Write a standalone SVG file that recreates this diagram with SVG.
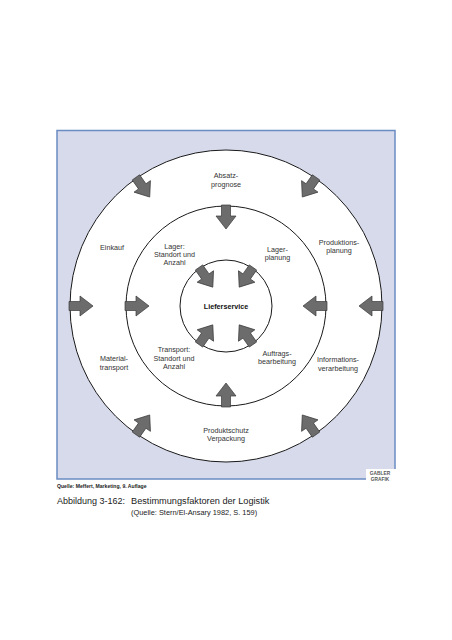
<svg xmlns="http://www.w3.org/2000/svg" xmlns:xlink="http://www.w3.org/1999/xlink" width="452" height="640" viewBox="0 0 452 640">
<style>
.lbl{font-family:"Liberation Sans",Arial,sans-serif;font-size:7.2px;fill:#333;text-anchor:middle}
.bold{font-weight:bold;fill:#111}
.ring{fill:#fff;stroke:#1a1a1a;stroke-width:1}
.arr{fill:#6c6c6c;stroke:#3a3a3a;stroke-width:0.7;stroke-linejoin:miter}
.cap{font-family:"Liberation Sans",Arial,sans-serif;fill:#222}
</style>
<defs>
<path id="a" class="arr" d="M-1,-4.5 L10,-4.5 L10,-10 L23,0 L10,10 L10,4.5 L-1,4.5 Z"/>
</defs>
<rect width="452" height="640" fill="#fff"/>
<rect id="frame" x="57" y="130.5" width="338" height="348.5" fill="#d7daeb" stroke="#6a8cc2" stroke-width="1.5"/>
<g id="outer"><circle class="ring" cx="226" cy="306" r="156"/></g>
<g id="middle"><circle class="ring" cx="226" cy="306" r="100"/></g>
<g id="inner"><circle class="ring" cx="226" cy="306" r="46"/></g>
<g id="connectors">
<use xlink:href="#a" transform="translate(70,306)"/>
<use xlink:href="#a" transform="translate(382,306) rotate(180)"/>
<use xlink:href="#a" transform="translate(136.5,178.2) rotate(55)"/>
<use xlink:href="#a" transform="translate(315.5,178.2) rotate(125)"/>
<use xlink:href="#a" transform="translate(136.5,433.8) rotate(-55)"/>
<use xlink:href="#a" transform="translate(315.5,433.8) rotate(-125)"/>
<use xlink:href="#a" transform="translate(226,206) rotate(90)"/>
<use xlink:href="#a" transform="translate(226,406) rotate(-90)"/>
<use xlink:href="#a" transform="translate(126,306)"/>
<use xlink:href="#a" transform="translate(326,306) rotate(180)"/>
<use xlink:href="#a" transform="translate(199.6,268.3) rotate(55)"/>
<use xlink:href="#a" transform="translate(252.4,268.3) rotate(125)"/>
<use xlink:href="#a" transform="translate(199.6,343.7) rotate(-55)"/>
<use xlink:href="#a" transform="translate(252.4,343.7) rotate(-125)"/>
</g>
<g id="absatz"><text class="lbl" x="226" y="178">Absatz-</text><text class="lbl" x="226" y="186.7">prognose</text></g>
<g id="einkauf"><text class="lbl" x="112" y="250">Einkauf</text></g>
<g id="lager"><text class="lbl" x="174.5" y="248.5">Lager:</text><text class="lbl" x="174.5" y="256.9">Standort und</text><text class="lbl" x="174.5" y="265.3">Anzahl</text></g>
<g id="lagerplanung"><text class="lbl" x="277.5" y="251.5">Lager-</text><text class="lbl" x="277.5" y="260">planung</text></g>
<g id="produktionsplanung"><text class="lbl" x="339" y="244.5">Produktions-</text><text class="lbl" x="339" y="253">planung</text></g>
<g id="lieferservice"><text class="lbl bold" x="226" y="308.5">Lieferservice</text></g>
<g id="materialtransport"><text class="lbl" x="114" y="361.3">Material-</text><text class="lbl" x="114" y="369.8">transport</text></g>
<g id="transport"><text class="lbl" x="174" y="352.3">Transport:</text><text class="lbl" x="174" y="360.7">Standort und</text><text class="lbl" x="174" y="369.1">Anzahl</text></g>
<g id="auftrag"><text class="lbl" x="277" y="355.6">Auftrags-</text><text class="lbl" x="277" y="364">bearbeitung</text></g>
<g id="information"><text class="lbl" x="338" y="362.3">Informations-</text><text class="lbl" x="338" y="370.7">verarbeitung</text></g>
<g id="produktschutz"><text class="lbl" x="226" y="432.6">Produktschutz</text><text class="lbl" x="226" y="441">Verpackung</text></g>
<g id="gabler">
<rect x="366" y="469" width="34" height="16" fill="#fff"/>
<text class="cap" x="380" y="475" font-size="4.8" font-weight="bold" text-anchor="middle" style="fill:#555">GABLER</text>
<text class="cap" x="380" y="481" font-size="4.8" font-weight="bold" text-anchor="middle" style="fill:#555">GRAFIK</text>
</g>
<g id="caption">
<text class="cap" x="57" y="487.5" font-size="5.1" font-weight="bold">Quelle: Meffert, Marketing, 9. Auflage</text>
<text class="cap" x="57" y="504" font-size="9">Abbildung 3-162:</text>
<text class="cap" x="131" y="504" font-size="9.2">Bestimmungsfaktoren der Logistik</text>
<text class="cap" x="131" y="514.5" font-size="7.4">(Quelle: Stern/El-Ansary 1982, S. 159)</text>
</g>
</svg>
